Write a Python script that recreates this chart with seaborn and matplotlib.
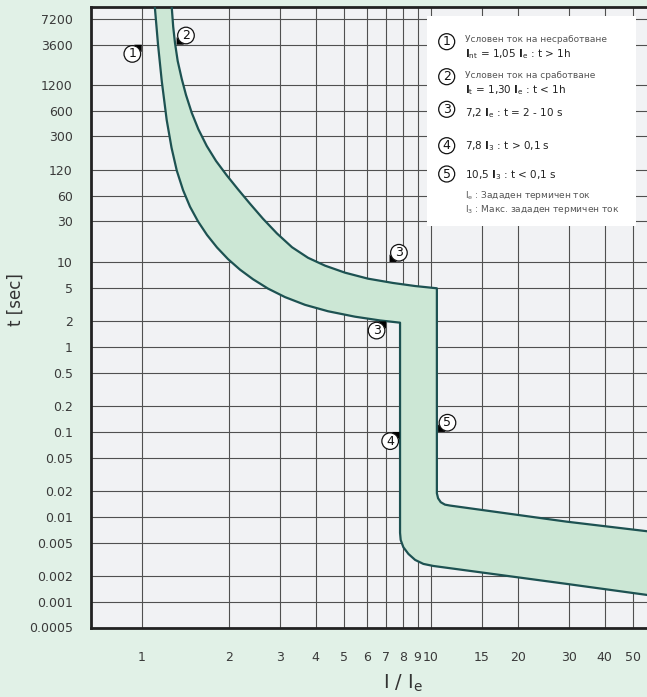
import matplotlib
matplotlib.use("Agg")
import matplotlib.pyplot as plt
import matplotlib.transforms as mtransforms
from matplotlib.patches import Circle, Polygon, Rectangle
import seaborn as sns

# Trip band: I/Ie vs t [s]
upper_i = [1.27, 1.285, 1.304, 1.332, 1.375, 1.423, 1.489, 1.57, 1.679, 1.807, 1.968, 2.154,
           2.37, 2.629, 2.939, 3.312, 3.762, 4.308, 5.052, 6.067, 7.406, 8.826, 10.5,
           10.5, 10.6, 10.83, 11.2, 11.67, 29.5, 60]
upper_t = [10000, 5860, 3741, 2310, 1434, 922, 571, 365, 231.5, 154.6, 104.7, 71.5,
           48.4, 32.2, 21.6, 14.9, 11.2, 9.05, 7.48, 6.36, 5.66, 5.21, 4.9,
           0.019, 0.0166, 0.0149, 0.01395, 0.0136, 0.0088, 0.0066]
lower_i = [1.11, 1.139, 1.173, 1.22, 1.268, 1.322, 1.39, 1.469, 1.566, 1.682, 1.822, 1.989,
           2.188, 2.427, 2.735, 3.132, 3.673, 4.413, 5.47, 6.68, 7.83,
           7.83, 7.87, 8.04, 8.37, 8.83, 9.43, 10.2, 29.5, 60]
lower_t = [10000, 3573, 1347, 469, 221, 119, 70, 44.7, 30, 20.8, 14.8, 10.8,
           8.12, 6.26, 4.86, 3.86, 3.13, 2.63, 2.27, 2.05, 1.93,
           0.0065, 0.00536, 0.0044, 0.00367, 0.00312, 0.0028, 0.00265, 0.00163, 0.00117]

x_ticks = [1, 2, 3, 4, 5, 6, 7, 8, 9, 10, 15, 20, 30, 40, 50]
y_ticks = [7200, 3600, 1200, 600, 300, 120, 60, 30, 10, 5, 2, 1, 0.5, 0.2, 0.1, 0.05,
           0.02, 0.01, 0.005, 0.002, 0.001, 0.0005]
y_labels = ["7200", "3600", "1200", "600", "300", "120", "60", "30", "10", "5", "2", "1",
            "0.5", "0.2", "0.1", "0.05", "0.02", "0.01", "0.005", "0.002", "0.001", "0.0005"]

# numbered callouts on the curve
mark_num = ["1", "2", "3", "3", "4", "5"]
mark_i = [1.0, 1.32, 7.2, 7.0, 7.8, 10.6]
mark_t = [3600, 3600, 10, 2, 0.1, 0.1]
mark_side = [-1, 1, 1, -1, -1, 1]

legend_num = ["1", "2", "3", "4", "5"]
legend_lines = [
    ("Условен ток на несработване", "note"),
    (r"$\mathbf{I}_{\mathrm{nt}}$ = 1,05 $\mathbf{I}_{\mathrm{e}}$ : t > 1h", "main"),
    ("Условен ток на сработване", "note"),
    (r"$\mathbf{I}_{\mathrm{t}}$ = 1,30 $\mathbf{I}_{\mathrm{e}}$ : t < 1h", "main"),
    (r"7,2 $\mathbf{I}_{\mathrm{e}}$ : t = 2 - 10 s", "main"),
    (r"7,8 $\mathbf{I}_{3}$ : t > 0,1 s", "main"),
    (r"10,5 $\mathbf{I}_{3}$ : t < 0,1 s", "main"),
    (r"$\mathrm{I}_{\mathrm{e}}$ : Зададен термичен ток", "note"),
    (r"$\mathrm{I}_{3}$ : Макс. зададен термичен ток", "note"),
]

sns.set_style("white")
plt.rcParams["font.family"] = ["DejaVu Sans"]
plt.rcParams["mathtext.fontset"] = "dejavusans"

W, H = 647, 697
BG = "#e1f1e7"
EDGE = "#1d5252"
fig = plt.figure(figsize=(W / 100, H / 100), dpi=100, facecolor=BG)
ax = fig.add_axes([90.7 / W, 1 - 627.5 / H, (W - 90.7) / W, (627.5 - 7.0) / H])
ax.set_facecolor("#f1f2f4")
ax.set_xscale("log")
ax.set_yscale("log")
ax.set_xlim(0.666, 56)
ax.set_ylim(0.0005, 10000)

# band
poly_i = upper_i + lower_i[::-1]
poly_t = upper_t + lower_t[::-1]
ax.fill(poly_i, poly_t, facecolor="#cce7d5", edgecolor="none", zorder=2)
sns.lineplot(x=upper_i, y=upper_t, ax=ax, color=EDGE, lw=1.6, sort=False, estimator=None, zorder=3)
sns.lineplot(x=lower_i, y=lower_t, ax=ax, color=EDGE, lw=1.6, sort=False, estimator=None, zorder=3)

ax.set_xticks(x_ticks)
ax.set_xticklabels([str(v) for v in x_ticks])
ax.set_yticks(y_ticks)
ax.set_yticklabels(y_labels)
ax.minorticks_off()
ax.grid(True, color="#505050", lw=0.8)
ax.set_axisbelow(True)
ax.tick_params(axis="y", length=6.5, width=1.6, color="#222222", pad=6.5,
               labelsize=9, labelcolor="#3a3a3a")
ax.tick_params(axis="x", length=7, width=1.6, color="#222222", pad=10,
               labelsize=9, labelcolor="#3a3a3a")
for side in ["left", "bottom", "top"]:
    ax.spines[side].set_color("#222222")
    ax.spines[side].set_linewidth(2)
ax.spines["right"].set_visible(False)
ax.set_xlabel("")
ax.set_ylabel("")

pix = mtransforms.Affine2D().scale(1 / 100, -1 / 100).translate(0, H / 100) + fig.dpi_scale_trans


def circled(target, transform, cx, cy, r, num, zorder):
    target.add_artist(Circle((cx, cy), r, transform=transform, facecolor="white",
                             edgecolor="#111111", lw=0.9, zorder=zorder, clip_on=False))
    target.add_artist(plt.Text(cx, cy, num, transform=transform, ha="center", va="center",
                               fontsize=9, color="#111111", zorder=zorder + 1, clip_on=False))


# callouts on the chart
for num, i, t, s in zip(mark_num, mark_i, mark_t, mark_side):
    tr = fig.dpi_scale_trans + mtransforms.ScaledTranslation(i, t, ax.transData)
    ax.add_artist(Polygon([(0, 0), (s * 0.075, 0), (0, s * 0.075)], closed=True, transform=tr,
                          facecolor="black", edgecolor="none", zorder=5, clip_on=False))
    circled(ax, tr, s * 0.094, s * 0.092, 0.083, num, 6)

# legend box
fig.add_artist(Rectangle((427, 16), 209, 210, transform=pix, facecolor="white",
                         edgecolor="none", zorder=3))
for num, y in zip(legend_num, [41.7, 76.7, 109.3, 145.7, 174]):
    circled(fig, pix, 446.7, y, 8, num, 4)
for (txt, kind), y in zip(legend_lines, [40, 54.3, 75.7, 90, 112.7, 146, 175, 195, 209]):
    if kind == "note":
        fig.text(465, y, txt, transform=pix, fontsize=6.5, color="#555555", va="center", zorder=5)
    else:
        fig.text(465, y, txt, transform=pix, fontsize=7.5, color="#222222", va="center", zorder=5)

fig.text(403, 683, r"I / I$_{\mathrm{e}}$", transform=pix, fontsize=14, color="#333333",
         ha="center", va="center")
fig.text(16, 300, "t [sec]", transform=pix, fontsize=12, color="#333333", rotation=90,
         ha="center", va="center")

fig.savefig("out.png", dpi=100, facecolor=BG)
